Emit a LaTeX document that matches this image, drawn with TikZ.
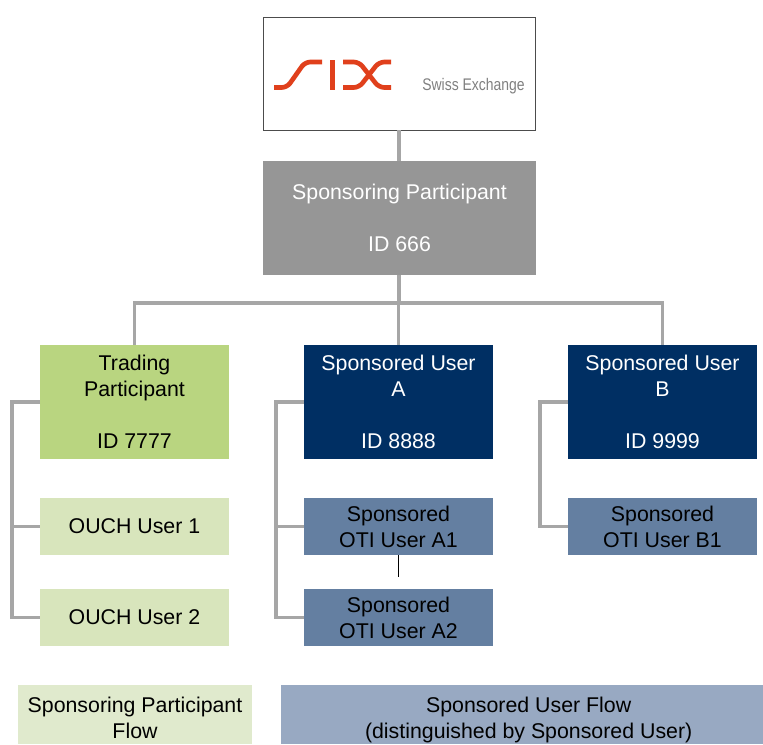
\documentclass[tikz,border=0pt]{standalone}
\usepackage{fontspec}
\setmainfont{Liberation Sans}
\definecolor{conn}{HTML}{A6A6A6}
\definecolor{spons}{HTML}{969696}
\definecolor{trad}{HTML}{B9D580}
\definecolor{ouch}{HTML}{D8E5BC}
\definecolor{navy}{HTML}{002F63}
\definecolor{midblue}{HTML}{647FA1}
\definecolor{legblue}{HTML}{98A9C2}
\definecolor{leggreen}{HTML}{E0EACD}
\definecolor{sixred}{HTML}{E0401C}
\definecolor{sixgray}{HTML}{808080}
\tikzset{
  x=0.75pt,y=-0.75pt,
  boxbase/.style={inner sep=0pt,outer sep=0pt,align=center,font=\fontsize{16}{19.5}\selectfont,anchor=north west},
  lightbox/.style={boxbase,text=white},
  darktext/.style={boxbase,text=black},
  link/.style={draw=conn,line width=2.4pt},
  sixstroke/.style={draw=sixred,line width=3.5pt,rounded corners=4pt},
}
\newcommand{\legstrut}{\rule{0pt}{16pt}}
\newcommand{\legstrutb}{\rule{0pt}{20.5pt}}
\newcommand{\legshift}{\hspace*{10pt}}
\begin{document}
\begin{tikzpicture}
\useasboundingbox (0,0) rectangle (763,744);
% boxes
\node[boxbase,draw=black!70,line width=0.6pt,fill=white,minimum width=272*0.75pt,minimum height=113*0.75pt] (logo) at (263,17) {};
\node[lightbox,fill=spons,minimum width=273*0.75pt,minimum height=114*0.75pt] (sp) at (263,161) {Sponsoring Participant\\\\ID 666};
\node[darktext,fill=trad,minimum width=189*0.75pt,minimum height=114*0.75pt] (tp) at (40,345) {Trading\\Participant\\\\ID 7777};
\node[lightbox,fill=navy,minimum width=189*0.75pt,minimum height=114*0.75pt] (sa) at (304,345) {Sponsored User\\A\\\\ID 8888};
\node[lightbox,fill=navy,minimum width=189*0.75pt,minimum height=114*0.75pt] (sb) at (568,345) {Sponsored User\\B\\\\ID 9999};
\node[darktext,fill=ouch,minimum width=189*0.75pt,minimum height=57*0.75pt] (o1) at (40,498) {OUCH User 1};
\node[darktext,fill=ouch,minimum width=189*0.75pt,minimum height=57*0.75pt] (o2) at (40,589) {OUCH User 2};
\node[darktext,fill=midblue,minimum width=189*0.75pt,minimum height=57*0.75pt] (a1) at (304,498) {Sponsored\\OTI User A1};
\node[darktext,fill=midblue,minimum width=189*0.75pt,minimum height=57*0.75pt] (a2) at (304,589) {Sponsored\\OTI User A2};
\node[darktext,fill=midblue,minimum width=189*0.75pt,minimum height=57*0.75pt] (b1) at (568,498) {Sponsored\\OTI User B1};
\node[darktext,fill=leggreen,minimum width=234*0.75pt,minimum height=59*0.75pt] (lg) at (18,685) {\legstrut Sponsoring Participant\\Flow};
\node[darktext,fill=legblue,minimum width=482*0.75pt,minimum height=59*0.75pt] (lb) at (281,685) {\legstrutb\legshift Sponsored User Flow\\\legshift(distinguished by Sponsored User)};
% connectors
\coordinate (bus) at (399,303);
\coordinate (tl) at (12,402);
\coordinate (al) at (276,402);
\coordinate (bl) at (540,402);
\coordinate (stub) at (398.5,577);
\draw[link] (logo.south -| bus) -- (sp.north -| bus);
\draw[link] (sp.south -| bus) -- (bus);
\draw[link] (tp.north) |- (bus) -| (sb.north);
\draw[link] (bus -| sa.north) -- (sa.north);
\draw[link] (tp.west) -- (tl) |- (o2.west);
\draw[link] (tl |- o1.west) -- (o1.west);
\draw[link] (sa.west) -- (al) |- (a2.west);
\draw[link] (al |- a1.west) -- (a1.west);
\draw[link] (sb.west) -- (bl) |- (b1.west);
\draw[black,line width=0.6pt] (a1.south -| stub) -- (stub);
% logo
\draw[sixstroke] (274,87.5) -- (287,87.5) -- (305,62) -- (322,62);
\draw[draw=sixred,line width=3.5pt] (332.5,60) -- (332.5,89.5);
\draw[sixstroke] (343,62) -- (359,62) -- (379,87.5) -- (391,87.5);
\draw[sixstroke] (343,87.5) -- (359,87.5) -- (379,62) -- (391,62);
\node[text=sixgray,inner sep=0pt,xscale=0.83,font=\fontsize{12.6}{15}\selectfont] (se) at (473.5,86.5) {Swiss Exchange};
\end{tikzpicture}
\end{document}
